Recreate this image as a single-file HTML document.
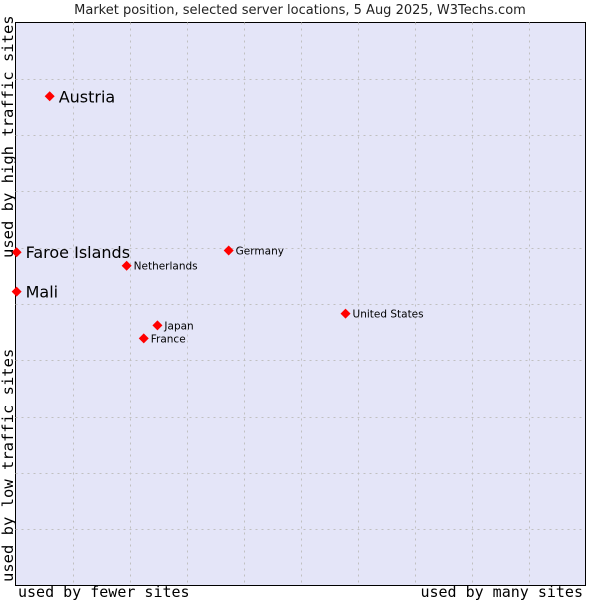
<!DOCTYPE html>
<html><head><meta charset="utf-8"><style>
html,body{margin:0;padding:0;background:#fff;width:600px;height:600px;overflow:hidden}
svg{display:block}
</style></head><body>
<svg id="chart" width="600" height="600" xmlns="http://www.w3.org/2000/svg">
<text x="300" y="14" text-anchor="middle" font-family="DejaVu Sans, sans-serif" font-size="13" fill="#222">Market position, selected server locations, 5 Aug 2025, W3Techs.com</text>
<rect x="15.5" y="22.5" width="570" height="563" fill="#e4e5f8" stroke="#000" stroke-width="1"/>
<g id="grid"></g>
<g id="points"></g>
<text x="18" y="597" font-family="DejaVu Sans Mono, monospace" font-size="15" fill="#000">used by fewer sites</text>
<text x="583" y="597" text-anchor="end" font-family="DejaVu Sans Mono, monospace" font-size="15" fill="#000">used by many sites</text>
<text transform="translate(13,582) rotate(-90)" font-family="DejaVu Sans Mono, monospace" font-size="15.5" fill="#000">used by low traffic sites</text>
<text transform="translate(13,258) rotate(-90)" font-family="DejaVu Sans Mono, monospace" font-size="15.5" fill="#000">used by high traffic sites</text>
</svg>
<script>
const names = ["Austria","Faroe Islands","Mali","Netherlands","Germany","United States","Japan","France"];
const xValues = [6.0, 0.2, 0.2, 19.5, 37.4, 57.9, 24.9, 22.5];
const yValues = [86.9, 59.2, 52.2, 56.8, 59.5, 48.3, 46.2, 43.9];
const bigLabel = [true, true, true, false, false, false, false, false];
const gridTicks = [10,20,30,40,50,60,70,80,90];

const X0=15.5, X1=585.5, Y0=585.5, Y1=22.5;
const sx = v => X0 + (X1-X0)*v/100;
const sy = v => Y0 - (Y0-Y1)*v/100;
const NS="http://www.w3.org/2000/svg";
const grid=document.getElementById('grid');
gridTicks.forEach(t=>{
  const v=document.createElementNS(NS,'line');
  
  
  v.setAttribute('x1',Math.round(sx(t))+0.5);v.setAttribute('x2',Math.round(sx(t))+0.5);
  v.setAttribute('y1',Y1);v.setAttribute('y2',Y0);
  v.setAttribute('stroke','#c0c0c0');v.setAttribute('stroke-dasharray','2,4');
  grid.appendChild(v);
  const h=document.createElementNS(NS,'line');
  
  
  h.setAttribute('y1',Math.round(sy(t))+0.5);h.setAttribute('y2',Math.round(sy(t))+0.5);
  h.setAttribute('x1',X0);h.setAttribute('x2',X1);
  h.setAttribute('stroke','#c0c0c0');h.setAttribute('stroke-dasharray','2,4');
  grid.appendChild(h);
});
const pts=document.getElementById('points');
names.forEach((n,i)=>{
  const x=sx(xValues[i]), y=sy(yValues[i]);
  const g=document.createElementNS(NS,'g');
  
  
  const m=document.createElementNS(NS,'polygon');
  
  
  m.setAttribute('points',`${x},${y-5} ${x+5},${y} ${x},${y+5} ${x-5},${y}`);
  m.setAttribute('fill','#ff0000');
  g.appendChild(m);
  const t=document.createElementNS(NS,'text');
  
  
  const big=bigLabel[i];
  t.setAttribute('x',x+(big?9:7));
  t.setAttribute('y',y+(big?6:4));
  t.setAttribute('font-family','DejaVu Sans, sans-serif');
  t.setAttribute('font-size',big?'16':'10.5');
  t.setAttribute('fill','#000');
  t.textContent=n;
  g.appendChild(t);
  pts.appendChild(g);
});
</script>
</body></html>
